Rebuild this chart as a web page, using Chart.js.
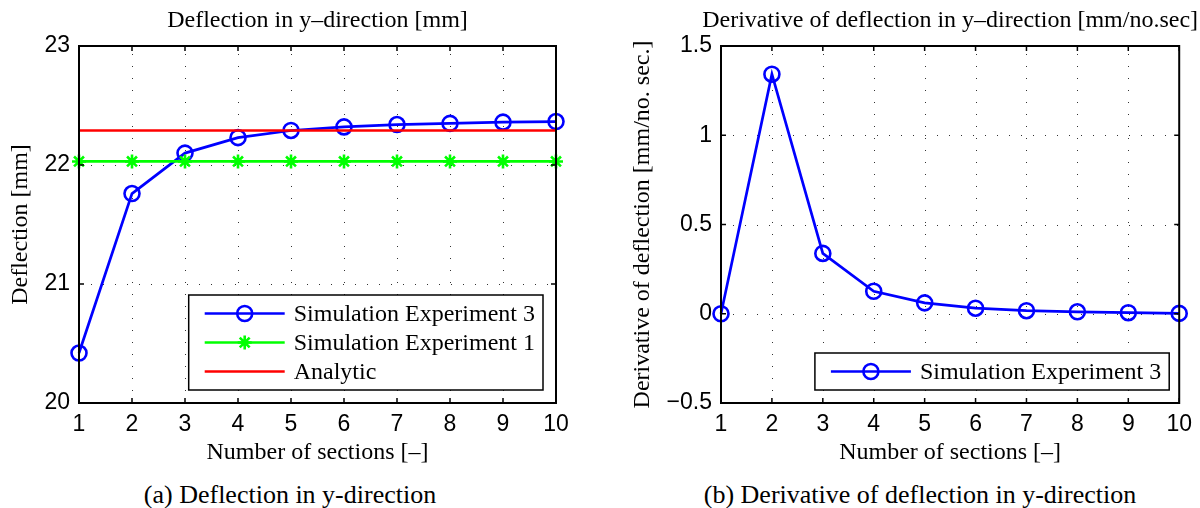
<!DOCTYPE html>
<html>
<head>
<meta charset="utf-8">
<script src="https://cdn.jsdelivr.net/npm/chart.js@4.4.1/dist/chart.umd.min.js"></script>
<style>
  html, body { margin: 0; padding: 0; background: #fff; }
  #wrap { position: relative; width: 1200px; height: 508px; overflow: hidden; }
  .pane { position: absolute; top: 0; width: 600px; height: 470px; }
  .cap { position: absolute; top: 480px; line-height: 30px; text-align: center; font: 26px "Liberation Serif", serif; color: #000; white-space: nowrap; }
</style>
</head>
<body>
<div id="wrap">
  <div class="pane" style="left:0"><canvas id="deflChart" width="600" height="470"></canvas></div>
  <div class="pane" style="left:600px"><canvas id="derivChart" width="600" height="470"></canvas></div>
  <div class="cap" style="left:0;width:580px">(a) Deflection in y-direction</div>
  <div class="cap" style="left:620px;width:600px">(b) Derivative of deflection in y-direction</div>
</div>
<script>
// number of sections (x)
const sections = [1, 2, 3, 4, 5, 6, 7, 8, 9, 10];

// (a) deflection in y-direction [mm]
const deflExp3 = [20.42, 21.76, 22.10, 22.23, 22.29, 22.32, 22.34, 22.35, 22.36, 22.365];
const deflExp1 = [22.03, 22.03, 22.03, 22.03, 22.03, 22.03, 22.03, 22.03, 22.03, 22.03];
const deflAnalytic = [22.29, 22.29, 22.29, 22.29, 22.29, 22.29, 22.29, 22.29, 22.29, 22.29];

// (b) derivative of deflection [mm/no. sec.]
const derivExp3 = [0, 1.342, 0.338, 0.126, 0.061, 0.031, 0.017, 0.011, 0.006, 0.002];

const SERIF = '"Liberation Serif", "Times New Roman", serif';
const SANS = '"Liberation Sans", Arial, Helvetica, sans-serif';
const BLUE = '#0000ff', GREEN = '#00ff00', RED = '#ff0000';

const pts = (ys) => sections.map((x, i) => ({ x, y: ys[i] }));
const fmtTick = (v) => v < 0 ? '\u2212' + Math.abs(v) : String(v);

// matlab look: dotted grid, box, inward ticks, legend inside axes, title over the axes
const matlabAxes = {
  id: 'matlabAxes',
  beforeDatasetsDraw(chart) {
    const { ctx, chartArea: ca, scales: { x, y } } = chart;
    ctx.save();
    ctx.strokeStyle = '#333'; ctx.lineWidth = 1; ctx.setLineDash([1, 11]);
    x.ticks.forEach(t => {
      if (t.value <= x.min || t.value >= x.max) return;
      const px = Math.round(x.getPixelForValue(t.value)) + 0.5;
      ctx.beginPath(); ctx.moveTo(px, ca.bottom); ctx.lineTo(px, ca.top); ctx.stroke();
    });
    y.ticks.forEach(t => {
      if (t.value <= y.min || t.value >= y.max) return;
      const py = Math.round(y.getPixelForValue(t.value)) + 0.5;
      ctx.beginPath(); ctx.moveTo(ca.left, py); ctx.lineTo(ca.right, py); ctx.stroke();
    });
    ctx.restore();
  },
  afterDatasetsDraw(chart, args, o) {
    const { ctx, chartArea: ca, scales: { x, y } } = chart;
    ctx.save();
    ctx.strokeStyle = '#000'; ctx.lineWidth = 1.5; ctx.setLineDash([]);
    const tl = 5;
    ctx.beginPath();
    x.ticks.forEach(t => {
      const px = x.getPixelForValue(t.value);
      ctx.moveTo(px, ca.bottom); ctx.lineTo(px, ca.bottom - tl);
      ctx.moveTo(px, ca.top); ctx.lineTo(px, ca.top + tl);
    });
    y.ticks.forEach(t => {
      const py = y.getPixelForValue(t.value);
      ctx.moveTo(ca.left, py); ctx.lineTo(ca.left + tl, py);
      ctx.moveTo(ca.right, py); ctx.lineTo(ca.right - tl, py);
    });
    ctx.stroke();
    ctx.lineWidth = 2;
    ctx.strokeRect(ca.left, ca.top, ca.right - ca.left, ca.bottom - ca.top);

    // legend
    const dss = chart.data.datasets;
    ctx.font = '24px ' + SERIF;
    const tw = Math.max(...dss.map(d => ctx.measureText(d.label).width));
    const rowH = 29;
    const w = 105 + tw + 8, h = 37 + rowH * (dss.length - 1);
    const x1 = ca.right - o.legendRight - w, y1 = ca.bottom - o.legendBottom - h;
    ctx.fillStyle = '#fff';
    ctx.fillRect(x1, y1, w, h);
    ctx.lineWidth = 1.5; ctx.strokeStyle = '#000';
    ctx.strokeRect(x1, y1, w, h);
    dss.forEach((d, i) => {
      const ly = y1 + 18.5 + i * rowH;
      ctx.strokeStyle = d.borderColor; ctx.lineWidth = d.borderWidth;
      ctx.beginPath(); ctx.moveTo(x1 + 16, ly); ctx.lineTo(x1 + 96, ly); ctx.stroke();
      if (d.pointStyle) {
        ctx.fillStyle = 'rgba(0,0,0,0)';
        ctx.lineWidth = d.pointBorderWidth;
        Chart.helpers.drawPoint(ctx, { pointStyle: d.pointStyle, radius: d.pointRadius, borderWidth: d.pointBorderWidth, rotation: 0 }, x1 + 56, ly);
      }
      ctx.fillStyle = '#000'; ctx.textAlign = 'left'; ctx.textBaseline = 'middle';
      ctx.fillText(d.label, x1 + 105, ly + 1);
    });

    // axes title
    ctx.font = '24px ' + SERIF;
    ctx.fillStyle = '#000'; ctx.textAlign = 'center'; ctx.textBaseline = 'middle';
    ctx.fillText(o.title, (ca.left + ca.right) / 2, 21);
    ctx.restore();
  }
};

function lineSet(label, data, color, style, radius, order) {
  return {
    label, data: pts(data), borderColor: color, backgroundColor: color,
    borderWidth: 2.7, pointStyle: style, pointRadius: radius, pointBorderWidth: 2.6,
    pointBackgroundColor: 'rgba(0,0,0,0)', pointBorderColor: color,
    tension: 0, clip: false, order
  };
}

function makeChart(id, datasets, cfg) {
  return new Chart(document.getElementById(id), {
    type: 'line',
    data: { datasets },
    plugins: [matlabAxes],
    options: {
      responsive: false, animation: false, events: [],
      layout: { padding: { top: 46, right: cfg.padRight, bottom: 0, left: 0 } },
      plugins: {
        legend: { display: false }, tooltip: { enabled: false },
        matlabAxes: { title: cfg.title, legendRight: cfg.legendRight, legendBottom: 13 }
      },
      scales: {
        x: {
          type: 'linear', min: 1, max: 10,
          ticks: { stepSize: 1, padding: 8, color: '#000', font: { family: SANS, size: 23 }, maxRotation: 0, autoSkip: false },
          grid: { display: false, drawTicks: false }, border: { display: false },
          title: { display: true, text: 'Number of sections [\u2013]', color: '#000', font: { family: SERIF, size: 24 }, padding: { top: 0, bottom: 3 } },
          afterFit: (s) => { s.height = 67; }
        },
        y: {
          min: cfg.yMin, max: cfg.yMax,
          ticks: { stepSize: cfg.yStep, padding: 9, color: '#000', font: { family: SANS, size: 23 }, callback: fmtTick },
          grid: { display: false, drawTicks: false }, border: { display: false },
          title: { display: true, text: cfg.yTitle, color: '#000', font: { family: SERIF, size: 24 }, padding: { top: cfg.yTitlePad, bottom: 0 } },
          afterFit: (s) => { s.width = cfg.yWidth; }
        }
      }
    }
  });
}

makeChart('deflChart', [
  lineSet('Simulation Experiment 3', deflExp3, BLUE, 'circle', 7.5, 3),
  lineSet('Simulation Experiment 1', deflExp1, GREEN, 'star', 7, 2),
  lineSet('Analytic', deflAnalytic, RED, false, 0, 1)
], {
  title: 'Deflection in y\u2013direction [mm]', yTitle: 'Deflection [mm]',
  yMin: 20, yMax: 23, yStep: 1, yWidth: 79, yTitlePad: 6, padRight: 44, legendRight: 13
});

makeChart('derivChart', [
  lineSet('Simulation Experiment 3', derivExp3, BLUE, 'circle', 7.5, 1)
], {
  title: 'Derivative of deflection in y\u2013direction [mm/no.sec]', yTitle: 'Derivative of deflection [mm/no. sec.]',
  yMin: -0.5, yMax: 1.5, yStep: 0.5, yWidth: 121, yTitlePad: 28, padRight: 18, legendRight: 10
});
</script>
</body>
</html>
